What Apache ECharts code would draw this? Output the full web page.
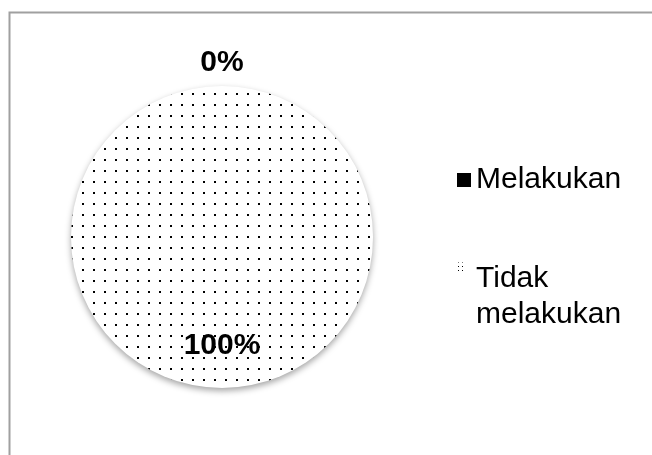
<!DOCTYPE html>
<html>
<head>
<meta charset="utf-8">
<script src="https://cdn.jsdelivr.net/npm/echarts@6/dist/echarts.min.js"></script>
<style>html,body{margin:0;padding:0;background:#fff;}#c{width:652px;height:455px;}</style>
</head>
<body>
<div id="c"></div>
<script>
const categories = ['Melakukan', 'Tidak melakukan'];
const values = [0, 100];
const legendLabels = ['Melakukan', 'Tidak\nmelakukan'];

function makeDots(size, dot, pos) {
  const cv = document.createElement('canvas');
  cv.width = size; cv.height = size;
  const ctx = cv.getContext('2d');
  ctx.fillStyle = '#fff';
  ctx.fillRect(0, 0, size, size);
  ctx.fillStyle = '#000';
  ctx.fillRect(pos, pos, dot, dot);
  return cv;
}
const dotPattern = { image: makeDots(11, 2, 5), repeat: 'repeat' };
const iconPattern = { image: makeDots(4, 1, 1), repeat: 'repeat' };
const colors = ['#000000', dotPattern];

const chart = echarts.init(document.getElementById('c'), null, { renderer: 'canvas' });
const font = 'Liberation Sans, Arial, sans-serif';
chart.setOption({
  animation: false,
  backgroundColor: '#fff',
  graphic: [{
    type: 'rect', left: 7, top: 10, z: -1,
    shape: { x: 0, y: 0, width: 700, height: 500 },
    style: { fill: 'none', stroke: '#a0a0a0', lineWidth: 2 }
  }],
  legend: [{
    data: [{ name: categories[0], icon: 'rect' }],
    orient: 'vertical', left: 452, top: 160,
    itemWidth: 14, itemHeight: 14,
    formatter: () => legendLabels[0],
    textStyle: { fontFamily: font, fontSize: 30, color: '#000' }
  }, {
    data: [{
      name: categories[1],
      icon: 'path://M0,3h6v9h-6z M13.9,71.9h0.1v0.1h-0.1z',
      itemStyle: { color: iconPattern }
    }],
    orient: 'vertical', left: 452, top: 256,
    itemWidth: 14, itemHeight: 72,
    formatter: () => legendLabels[1],
    textStyle: { fontFamily: font, fontSize: 30, color: '#000', lineHeight: 36 }
  }],
  series: [{
    type: 'pie',
    center: [222, 237],
    radius: 151,
    startAngle: 90,
    clockwise: true,
    avoidLabelOverlap: false,
    label: {
      show: true, position: 'inside',
      formatter: '{d}%',
      fontFamily: font, fontSize: 30, fontWeight: 'bold', color: '#000'
    },
    labelLine: { show: false },
    itemStyle: {
      borderWidth: 0,
      shadowBlur: 6, shadowOffsetY: 3, shadowColor: 'rgba(0,0,0,0.35)'
    },
    data: categories.map((name, i) => ({
      name: name,
      value: values[i],
      itemStyle: { color: colors[i] },
      label: i === 0 ? { offset: [0, -96] } : { offset: [0, 30] }
    }))
  }]
});
</script>
</body>
</html>
